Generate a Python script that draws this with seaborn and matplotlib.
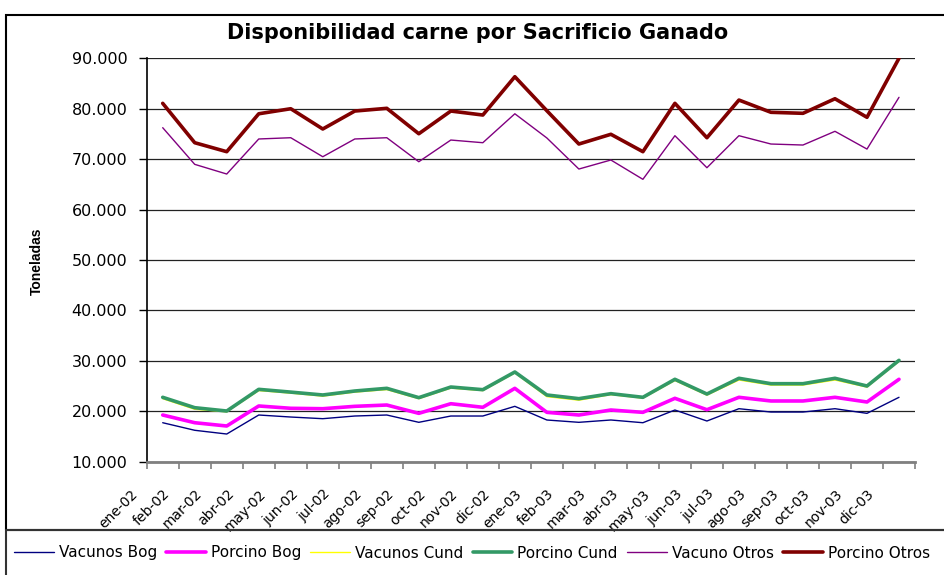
import matplotlib
matplotlib.use("Agg")
import matplotlib.pyplot as plt
import matplotlib.transforms as mtransforms
from matplotlib.ticker import FuncFormatter, FixedLocator
from matplotlib.patches import Rectangle
from matplotlib.lines import Line2D
import seaborn as sns
import pandas as pd

meses = ['ene-02', 'feb-02', 'mar-02', 'abr-02', 'may-02', 'jun-02', 'jul-02', 'ago-02',
         'sep-02', 'oct-02', 'nov-02', 'dic-02', 'ene-03', 'feb-03', 'mar-03', 'abr-03',
         'may-03', 'jun-03', 'jul-03', 'ago-03', 'sep-03', 'oct-03', 'nov-03', 'dic-03']

vacunos_bog = [17730, 16230, 15490, 19260, 18860, 18530, 19060, 19260, 17810, 19060, 19060, 20980,
               18270, 17810, 18270, 17730, 20250, 18070, 20510, 19850, 19850, 20510, 19590, 22770]
porcino_bog = [19260, 17730, 17080, 21050, 20590, 20510, 20980, 21240, 19590, 21500, 20790, 24550,
               19790, 19260, 20250, 19790, 22570, 20310, 22770, 22040, 22040, 22770, 21840, 26340]
vacunos_cund = [22500, 20400, 19900, 24100, 23600, 23000, 23800, 24300, 22500, 24600, 24100, 27600,
                22900, 22200, 23300, 22600, 26100, 23200, 26200, 25200, 25200, 26200, 24800, 29900]
porcino_cund = [22770, 20710, 20050, 24350, 23800, 23230, 24020, 24550, 22700, 24810, 24280, 27790,
                23230, 22500, 23490, 22770, 26340, 23420, 26540, 25470, 25470, 26540, 25010, 30100]
vacuno_otros = [76240, 68970, 67050, 74000, 74250, 70480, 74000, 74250, 69490, 73790, 73260, 79000,
                74200, 68040, 69830, 66000, 74650, 68300, 74650, 73000, 72800, 75520, 72000, 82260]
porcino_otros = [81070, 73260, 71480, 79000, 80000, 75980, 79540, 80080, 75040, 79540, 78750, 86350,
                 79600, 73000, 74930, 71480, 81070, 74250, 81720, 79290, 79090, 81980, 78300, 90000]

series = ['Vacunos Bog', 'Porcino Bog', 'Vacunos Cund', 'Porcino Cund', 'Vacuno Otros', 'Porcino Otros']
valores = [vacunos_bog, porcino_bog, vacunos_cund, porcino_cund, vacuno_otros, porcino_otros]
colores = ['#000080', '#FF00FF', '#FFFF00', '#339966', '#800080', '#800000']
grosores = [1.0, 2.6, 1.0, 2.6, 1.0, 2.6]

filas = []
for nombre, vals in zip(series, valores):
    for i, v in enumerate(vals):
        filas.append({'mes': i, 'serie': nombre, 'toneladas': v})
df = pd.DataFrame(filas)

sns.set_style("white")
plt.rcParams['font.family'] = ['DejaVu Sans']
plt.rcParams['text.color'] = 'black'
plt.rcParams['axes.labelcolor'] = 'black'
plt.rcParams['xtick.color'] = 'black'
plt.rcParams['ytick.color'] = 'black'

fig = plt.figure(figsize=(9.44, 5.75), dpi=100)
ax = fig.add_axes([146.7 / 944, 113.3 / 575, 768.3 / 944, 403.4 / 575])

for y in range(10000, 90001, 10000):
    ax.axhline(y, color='#222222', lw=0.9, zorder=0)

sns.lineplot(data=df, x='mes', y='toneladas', hue='serie', size='serie',
             hue_order=series, size_order=series,
             palette=dict(zip(series, colores)), sizes=dict(zip(series, grosores)),
             ax=ax, legend=False)

ax.set_xlim(-0.5, len(meses) - 0.5)
ax.set_ylim(10000, 90000)
ax.set_yticks(range(10000, 90001, 10000))
ax.yaxis.set_major_formatter(FuncFormatter(lambda v, p: f'{int(v):,}'.replace(',', '.')))
ax.tick_params(axis='y', direction='out', length=6, width=1, pad=8, labelsize=11.5,
               colors='black', left=True)

ax.set_xticks(range(len(meses)))
ax.set_xticklabels(meses, rotation=45, ha='right', fontsize=10, color='black')
ax.xaxis.set_minor_locator(FixedLocator([i - 0.5 for i in range(len(meses) + 1)]))
ax.tick_params(axis='x', which='major', length=0, pad=18)
ax.tick_params(axis='x', which='minor', direction='out', length=5, width=1.2,
               color='#808080', bottom=True)
shift = mtransforms.ScaledTranslation(-0.22, 0, fig.dpi_scale_trans)
for lab in ax.get_xticklabels():
    lab.set_transform(lab.get_transform() + shift)

ax.set_xlabel('')
ax.set_ylabel('Toneladas', fontsize=10, fontweight='bold', color='black',
              family=['Liberation Sans', 'DejaVu Sans'])
ax.yaxis.set_label_coords(-0.134, 0.497)

for s in ['top', 'right']:
    ax.spines[s].set_visible(False)
ax.spines['left'].set_color('black')
ax.spines['left'].set_linewidth(1.2)
ax.spines['bottom'].set_color('#808080')
ax.spines['bottom'].set_linewidth(2)

fig.text(478 / 944, 1 - 33 / 575, 'Disponibilidad carne por Sacrificio Ganado',
         ha='center', va='center', fontsize=15, fontweight='bold', color='black')

# marcos del grafico y de la leyenda
fig.patches.append(Rectangle((6 / 944, 45 / 575), 1.0, 1 - 15 / 575 - 45 / 575,
                             transform=fig.transFigure, fill=False, lw=1.5,
                             edgecolor='black', clip_on=False))
fig.patches.append(Rectangle((6 / 944, -0.05), 1.0, 0.05 + 45 / 575,
                             transform=fig.transFigure, fill=False, lw=1.5,
                             edgecolor='#333333', clip_on=False))

handles = [Line2D([], [], color=c, lw=w) for c, w in zip(colores, grosores)]
fig.legend(handles, series, loc='center left', bbox_to_anchor=(14 / 944, 22 / 575),
           ncol=6, frameon=False, handlelength=2.6, handletextpad=0.33,
           columnspacing=0.6, borderaxespad=0, borderpad=0,
           prop={'size': 11})

fig.savefig('out.png', dpi=100)
